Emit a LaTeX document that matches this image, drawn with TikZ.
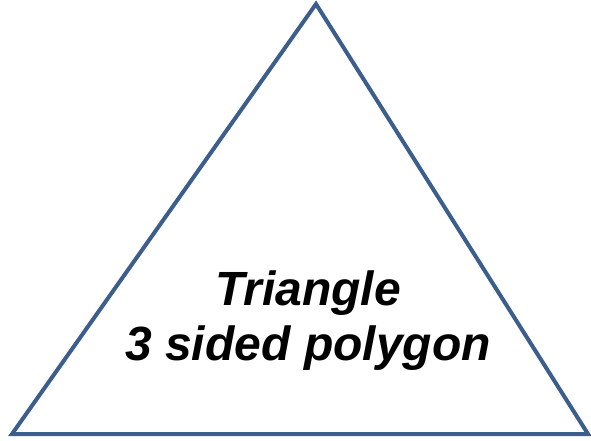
\documentclass[tikz,border=0pt]{standalone}
\usepackage{fontspec}
\setmainfont{Liberation Sans}
\definecolor{edgeblue}{HTML}{3B5E8C}
\begin{document}
\begin{tikzpicture}[x=1pt,y=1pt,
  tri/.style={draw=edgeblue,line width=4pt,line join=miter},
  lbl/.style={font=\fontsize{48}{55}\selectfont\bfseries\itshape,align=center,inner sep=0pt}]
\useasboundingbox (0,0) rectangle (591,440);
\coordinate (apex) at (316,436);
\coordinate (bl) at (12,6);
\coordinate (br) at (588,6);
\draw[tri] (apex) -- (br) -- (bl) -- cycle;
\node[lbl] (t) at (308,119) {Triangle\\3 sided polygon};
\end{tikzpicture}
\end{document}
